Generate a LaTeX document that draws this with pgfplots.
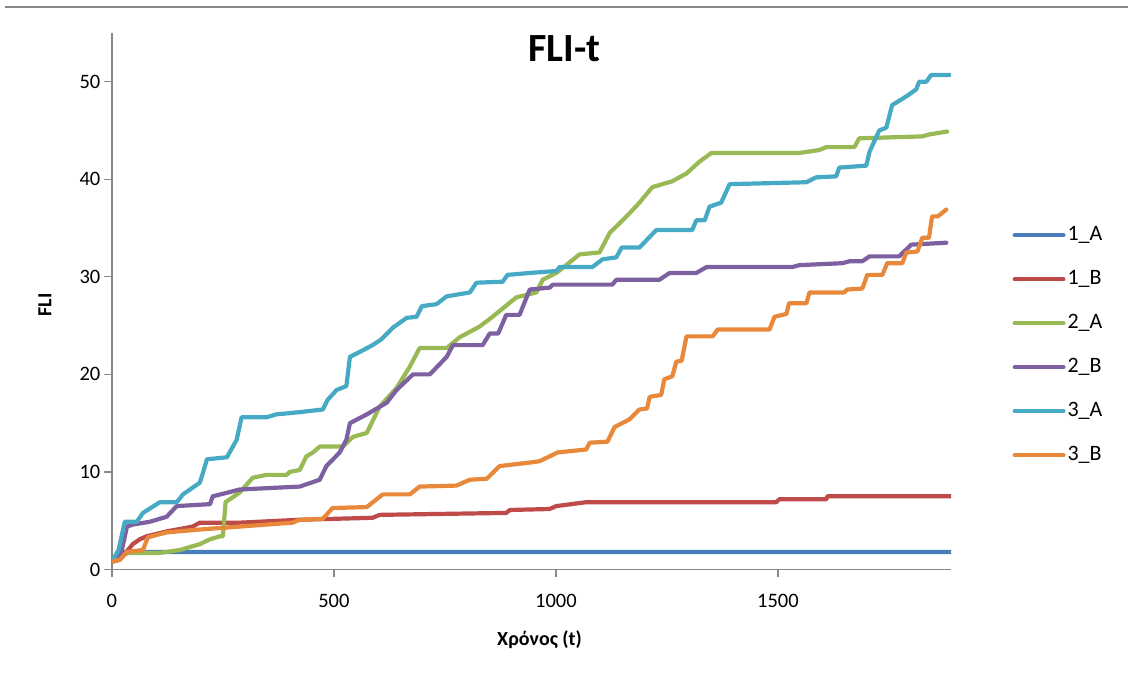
\documentclass[border=0pt]{standalone}
\usepackage{fontspec}
\setmainfont{Carlito}
\usepackage{pgfplots}
\pgfplotsset{compat=1.18}

\definecolor{sA}{HTML}{4A7EBB}
\definecolor{sB}{HTML}{BE4B48}
\definecolor{sC}{HTML}{98B954}
\definecolor{sD}{HTML}{7D60A0}
\definecolor{sE}{HTML}{46AAC5}
\definecolor{sF}{HTML}{E8883A}
\definecolor{axgray}{HTML}{888888}

\begin{document}
\begin{tikzpicture}
\begin{axis}[
  at={(0pt,0pt)}, anchor=south west,
  scale only axis, width=840pt, height=537pt,
  xmin=0, xmax=1890, ymin=0, ymax=55,
  axis lines*=left,
  axis line style={axgray, line width=1.3pt},
  xtick={0,500,1000,1500}, ytick={0,10,20,30,40,50},
  tick align=outside, major tick length=8pt,
  tick style={axgray, line width=1.3pt},
  /pgf/number format/assume math mode=true,
  /pgf/number format/1000 sep={},
  ticklabel style={font=\fontsize{20.5}{24}\selectfont, text=black},
  xticklabel style={yshift=-13pt},
  title={\bfseries FLI-t},
  title style={at={(axis description cs:0.539,0.959)}, anchor=center,
    font=\fontsize{40}{48}\selectfont},
  xlabel={\bfseries Χρόνος (t)},
  xlabel style={at={(axis description cs:0.5095,-0.130)}, anchor=center,
    font=\fontsize{20}{24}\selectfont},
  ylabel={\bfseries FLI},
  ylabel style={at={(axis description cs:-0.0798,0.493)}, anchor=center, rotate=0,
    font=\fontsize{20}{24}\selectfont},
  every axis plot/.append style={line width=4.2pt, line join=round, line cap=round},
  legend cell align=left,
  legend style={at={(axis description cs:1.073,0.418)}, anchor=west,
    draw=none, fill=none, inner sep=0pt, row sep=22pt,
    font=\fontsize{22}{26}\selectfont,
    nodes={text height=14pt, text depth=4pt, inner sep=2pt}},
  legend image code/.code={\draw[#1, line width=4pt, line cap=round] (0pt,0pt) -- (49pt,0pt);},
]
% 1_A
\addplot[sA] coordinates {(0,0.8) (15,1.0) (25,1.8) (1890,1.8)};
\addlegendentry{1\_A}
% 1_B
\addplot[sB] coordinates {(0,0.8) (18,1.0) (47,2.6) (63,3.1) (78,3.4) (123,3.9) (182,4.4) (198,4.8) (288,4.8) (423,5.1) (587,5.3) (603,5.6) (888,5.8) (896,6.1) (985,6.2) (1001,6.5) (1068,6.9) (1496,6.9) (1503,7.2) (1609,7.2) (1611,7.5) (1890,7.5)};
\addlegendentry{1\_B}
% 2_A
\addplot[sC] coordinates {(0,0.8) (20,1.5) (40,1.7) (108,1.7) (153,2.0) (198,2.6) (221,3.1) (243,3.4) (250,3.4) (256,6.9) (288,7.9) (317,9.4) (348,9.7) (394,9.7) (400,10.0) (423,10.2) (438,11.6) (453,12.0) (468,12.6) (520,12.6) (543,13.6) (574,14.0) (603,16.7) (641,18.6) (671,20.8) (693,22.7) (754,22.7) (783,23.8) (828,24.9) (857,25.9) (911,27.9) (956,28.4) (970,29.7) (1001,30.4) (1053,32.3) (1098,32.5) (1121,34.5) (1159,36.2) (1188,37.6) (1217,39.2) (1262,39.8) (1294,40.6) (1323,41.8) (1350,42.7) (1548,42.7) (1593,43.0) (1609,43.3) (1672,43.3) (1683,44.2) (1825,44.4) (1841,44.6) (1881,44.9)};
\addlegendentry{2\_A}
% 2_B
\addplot[sD] coordinates {(0,0.8) (20,1.5) (34,4.4) (47,4.6) (86,4.9) (123,5.4) (146,6.5) (221,6.7) (227,7.5) (288,8.2) (423,8.5) (468,9.2) (483,10.6) (513,12.0) (528,13.3) (536,15.0) (574,15.9) (619,17.1) (641,18.4) (678,20.0) (716,20.0) (754,21.8) (768,23.0) (835,23.0) (851,24.2) (870,24.2) (888,26.1) (918,26.1) (941,28.7) (986,28.9) (993,29.2) (1127,29.2) (1136,29.7) (1233,29.7) (1256,30.4) (1316,30.4) (1339,31.0) (1532,31.0) (1548,31.2) (1645,31.4) (1661,31.6) (1690,31.6) (1706,32.1) (1773,32.1) (1800,33.3) (1879,33.5)};
\addlegendentry{2\_B}
% 3_A
\addplot[sE] coordinates {(0,0.8) (15,2.0) (29,4.9) (56,4.9) (70,5.8) (108,6.9) (146,6.9) (160,7.7) (198,8.9) (205,9.9) (214,11.3) (259,11.5) (281,13.3) (292,15.6) (348,15.6) (370,15.9) (416,16.1) (475,16.4) (486,17.4) (506,18.4) (528,18.8) (536,21.8) (558,22.3) (587,23.0) (607,23.6) (633,24.8) (664,25.8) (686,25.9) (698,27.0) (731,27.2) (754,28.0) (806,28.4) (821,29.4) (880,29.5) (891,30.2) (941,30.4) (1001,30.6) (1008,31.0) (1082,31.0) (1105,31.8) (1136,32.0) (1148,33.0) (1188,33.0) (1226,34.8) (1307,34.8) (1316,35.8) (1335,35.8) (1346,37.2) (1372,37.6) (1391,39.5) (1564,39.7) (1586,40.2) (1631,40.3) (1638,41.2) (1699,41.4) (1706,42.8) (1728,45.0) (1744,45.3) (1757,47.6) (1789,48.5) (1811,49.2) (1818,50.0) (1834,50.0) (1845,50.7) (1886,50.7)};
\addlegendentry{3\_A}
% 3_B
\addplot[sF] coordinates {(0,0.8) (18,1.0) (34,1.8) (70,2.0) (81,3.3) (123,3.8) (198,4.1) (288,4.4) (407,4.8) (423,5.1) (475,5.2) (497,6.3) (574,6.4) (610,7.7) (671,7.7) (693,8.5) (776,8.6) (806,9.2) (844,9.3) (873,10.6) (948,11.0) (963,11.1) (1004,12.0) (1068,12.3) (1076,13.0) (1116,13.1) (1132,14.6) (1166,15.4) (1188,16.4) (1205,16.5) (1211,17.7) (1237,17.9) (1244,19.5) (1262,19.8) (1271,21.3) (1283,21.4) (1294,23.9) (1353,23.9) (1364,24.6) (1481,24.6) (1492,25.9) (1519,26.2) (1525,27.3) (1564,27.3) (1571,28.4) (1649,28.4) (1656,28.7) (1690,28.8) (1701,30.2) (1735,30.2) (1746,31.4) (1780,31.4) (1789,32.5) (1814,32.6) (1825,34.0) (1840,34.0) (1847,36.2) (1860,36.2) (1879,36.9)};
\addlegendentry{3\_B}
\end{axis}
% chart frame edge along the top
\draw[axgray, line width=2pt] (-107pt,563pt) -- (1017pt,563pt);
\path[use as bounding box] (-112pt,-112pt) rectangle (1017pt,570pt);
\end{tikzpicture}
\end{document}
